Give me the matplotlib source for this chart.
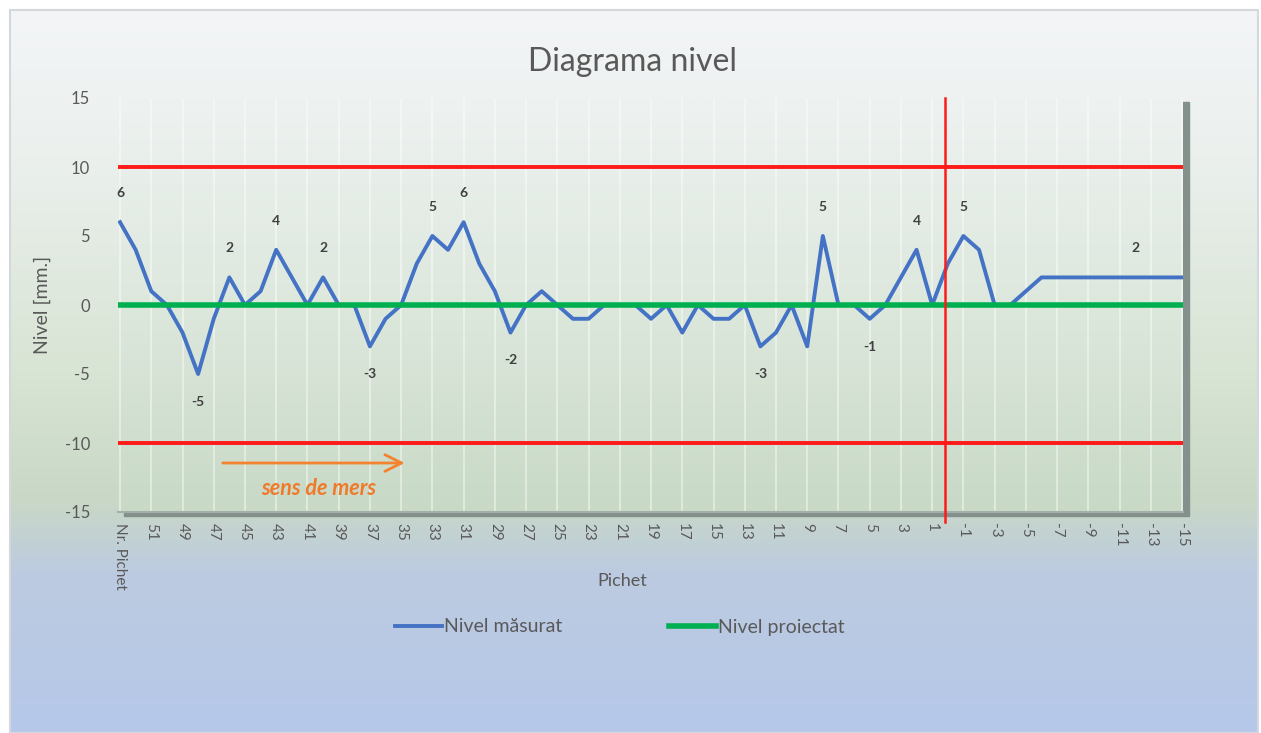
import matplotlib.pyplot as plt
import numpy as np
from matplotlib.colors import LinearSegmentedColormap
from matplotlib.patches import Rectangle

plt.rcParams['font.family'] = ['Lato', 'DejaVu Sans']
plt.rcParams['axes.unicode_minus'] = False

# categorii (pichet) si valori
pichet = ["Nr. Pichet"] + [str(k) for k in range(52, -16, -1)]
nivel_masurat = [6, 4, 1, 0, -2, -5, -1, 2, 0, 1,
                 4, 2, 0, 2, 0, 0, -3, -1, 0, 3,
                 5, 4, 6, 3, 1, -2, 0, 1, 0, -1,
                 -1, 0, 0, 0, -1, 0, -2, 0, -1, -1,
                 0, -3, -2, 0, -3, 5, 0, 0, -1, 0,
                 2, 4, 0, 3, 5, 4, 0, 0, 1, 2,
                 2, 2, 2, 2, 2, 2, 2, 2, 2]
nivel_proiectat = [0] * len(pichet)
limita_sus = 10
limita_jos = -10
pozitie_verticala = 52.8
etichete = [0, 5, 7, 10, 13, 16, 20, 22, 25, 41, 45, 48, 51, 54, 65]

W, H = 1261, 733
gri = '#595959'

fig = plt.figure(figsize=(W / 100, H / 100), dpi=100)

# fundal diagrama (gradient)
bg = fig.add_axes([10 / W, 0, 1248 / W, 723 / H], zorder=-10)
cm_bg = LinearSegmentedColormap.from_list('bg', [
    (0.0, '#f3f5f7'), (0.2, '#ebf0ed'), (0.5, '#d8e4d4'),
    (0.68, '#c9d8c6'), (0.78, '#bccbe0'), (1.0, '#b6c8ea')])
grad = np.linspace(0, 1, 256).reshape(-1, 1)
bg.imshow(grad, aspect='auto', cmap=cm_bg, extent=[0, 1, 0, 1])
bg.axis('off')
fig.patches.append(Rectangle((10 / W, 0), 1248 / W, 723 / H, transform=fig.transFigure,
                             fill=False, edgecolor='#d4d8dc', lw=1.5, zorder=-9))

x0, x1, y0, y1 = 118, 1183, 98, 512
pos = [x0 / W, 1 - y1 / H, (x1 - x0) / W, (y1 - y0) / H]

# umbra zonei de desen
fig.patches.append(Rectangle((pos[0] + 6 / W, pos[1] - 4 / H), pos[2], pos[3],
                             transform=fig.transFigure, color='#84908c', zorder=-5))

ax = fig.add_axes(pos)
cm_pa = LinearSegmentedColormap.from_list('pa', ['#eef2f1', '#dde8dd', '#c8d9c6'])
ax.imshow(grad, aspect='auto', cmap=cm_pa, extent=[0, 1, 0, 1],
          transform=ax.transAxes, zorder=0)

x = np.arange(len(pichet))

ax.axhline(limita_sus, color='#ff1a1a', lw=2.8, zorder=2)
ax.axhline(limita_jos, color='#ff1a1a', lw=2.8, zorder=2)
l1, = ax.plot(x, nivel_masurat, color='#4472c4', lw=2.8, label='Nivel măsurat', zorder=4)
l2, = ax.plot(x, nivel_proiectat, color='#00b050', lw=4, label='Nivel proiectat', zorder=5)
ax.axvline(pozitie_verticala, ymin=-0.025, ymax=1, color='#ff1a1a', lw=1.8,
           zorder=6, clip_on=False)

for i in etichete:
    v = nivel_masurat[i]
    dy = 21 if v >= 0 else -20
    ax.annotate(str(v), (x[i], v), xytext=(0, dy), textcoords='offset points',
                ha='center', va='center', fontsize=10, fontweight='bold', color='#404040')

# sageata sens de mers
ax.annotate('', xy=(18.4, -11.45), xytext=(6.4, -11.45),
            arrowprops=dict(arrowstyle='->', color='#f4822f', lw=2, mutation_scale=30))
ax.text(12.7, -13.3, 'sens de mers', ha='center', va='center', fontsize=15.5,
        fontstyle='italic', fontweight='bold', color='#f07a2a')

ax.set_xlim(-0.13, 68.06)
ax.set_ylim(-15, 15)
ax.set_xticks(x[::2])
ax.set_xticklabels(pichet[::2], rotation=270, fontsize=11, color=gri)
ax.set_yticks(range(-15, 16, 5))
ax.tick_params(axis='y', labelsize=12, colors=gri, length=0, pad=20)
ax.tick_params(axis='x', length=0, pad=8)
ax.grid(axis='x', color='white', lw=1.1, alpha=0.55)
for s in ['top', 'right', 'left']:
    ax.spines[s].set_visible(False)
ax.spines['bottom'].set_color('#a4aeab')
ax.spines['bottom'].set_linewidth(1.5)

fig.text(633 / W, 1 - 62 / H, 'Diagrama nivel', ha='center', va='center', fontsize=23, color=gri)
fig.text(622 / W, 1 - 581 / H, 'Pichet', ha='center', va='center', fontsize=13, color=gri)
fig.text(42 / W, 1 - 305 / H, 'Nivel [mm.]', ha='center', va='center', fontsize=14,
         color=gri, rotation=90)

fig.legend(handles=[l1, l2], loc='center', bbox_to_anchor=(620 / W, 1 - 627 / H),
           ncol=2, frameon=False, fontsize=14, handlelength=2.4, handletextpad=0.1,
           columnspacing=5.5, labelcolor=gri)

fig.savefig('out.png', dpi=100)
